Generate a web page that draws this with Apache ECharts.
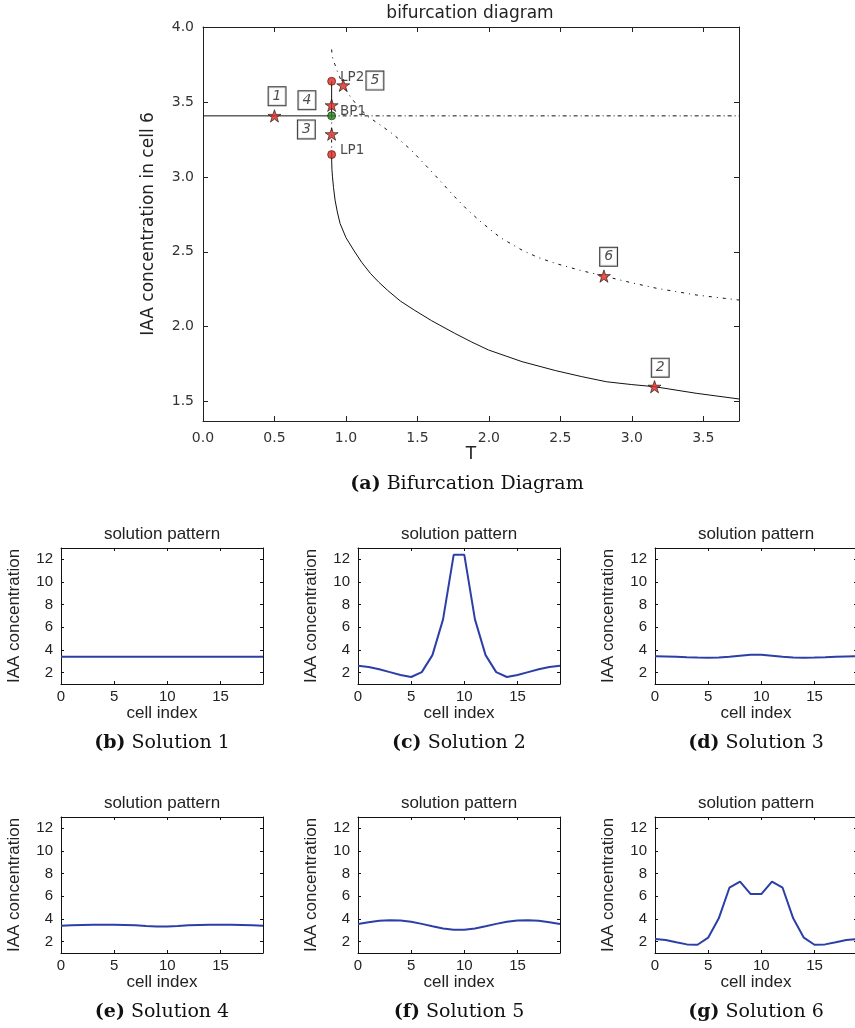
<!DOCTYPE html>
<html>
<head>
<meta charset="utf-8">
<script src="https://cdn.jsdelivr.net/npm/echarts@6/dist/echarts.min.js"></script>
<style>
html,body{margin:0;padding:0;background:#fff;}
#chart{width:855px;height:1028px;}
</style>
</head>
<body>
<div id="chart"></div>
<script>
// ---------- tick labels ----------
const mainXTicks = [0, 0.5, 1, 1.5, 2, 2.5, 3, 3.5];
const mainYTicks = [1.5, 2, 2.5, 3, 3.5, 4];
const subXTicks = [0, 5, 10, 15];
const subYTicks = [2, 4, 6, 8, 10, 12];

// ---------- bifurcation diagram branches (T, IAA in cell 6) ----------
const trivialStable = [[0, 3.407], [0.9, 3.407]];
const trivialUnstable = [[0.9, 3.407], [3.75, 3.407]];
const bpToLp2 = [[0.9, 3.407], [0.9, 3.638]];
const lp1ToBp = [[0.9, 3.149], [0.9, 3.407]];
const lowerBranch = [[0.9, 3.149], [0.9005, 3.10], [0.902, 3.05], [0.906, 3.0], [0.913, 2.93], [0.924, 2.845],
  [0.94, 2.765], [0.959, 2.689], [1.0, 2.595], [1.054, 2.511], [1.11, 2.43], [1.172, 2.355], [1.23, 2.297],
  [1.289, 2.245], [1.38, 2.172], [1.478, 2.111], [1.6, 2.04], [1.761, 1.956], [1.88, 1.898], [1.997, 1.845],
  [2.232, 1.767], [2.468, 1.707], [2.65, 1.667], [2.822, 1.633], [3.0, 1.614], [3.159, 1.600], [3.45, 1.556], [3.75, 1.518]];
const upperBranch = [[0.9, 3.85], [0.903, 3.81], [0.91, 3.78], [0.923, 3.75], [0.945, 3.69], [0.981, 3.611], [1.014, 3.558],
  [1.042, 3.522], [1.084, 3.47], [1.15, 3.405], [1.25, 3.34], [1.336, 3.28], [1.455, 3.18], [1.595, 3.04],
  [1.761, 2.867], [1.85, 2.78], [1.95, 2.695], [2.08, 2.595], [2.232, 2.511], [2.35, 2.46], [2.468, 2.422],
  [2.64, 2.376], [2.805, 2.338], [3.0, 2.293], [3.176, 2.256], [3.45, 2.212], [3.75, 2.178]];

// special points
const specialPoints = [[0.9, 3.149], [0.9, 3.638], [0.9, 3.407]];
const specialNames = ['LP1', 'LP2', 'BP1'];

// labelled solutions (stars)
const starPoints = [[0.5, 3.407], [3.159, 1.600], [0.9, 3.285], [0.9, 3.478], [0.981, 3.611], [2.805, 2.338]];
const starNames = ['1', '2', '3', '4', '5', '6'];

// ---------- solution patterns ----------
const cells = [0, 1, 2, 3, 4, 5, 6, 7, 8, 9, 10, 11, 12, 13, 14, 15, 16, 17, 18, 19];
const sol1 = [3.41, 3.41, 3.41, 3.41, 3.41, 3.41, 3.41, 3.41, 3.41, 3.41, 3.41, 3.41, 3.41, 3.41, 3.41, 3.41, 3.41, 3.41, 3.41, 3.41];
const sol2 = [2.6, 2.5, 2.3, 2.05, 1.8, 1.62, 2.05, 3.55, 6.7, 12.4, 12.4, 6.7, 3.55, 2.05, 1.62, 1.8, 2.05, 2.3, 2.5, 2.6];
const sol3 = [3.45, 3.43, 3.4, 3.36, 3.33, 3.32, 3.34, 3.4, 3.5, 3.58, 3.58, 3.5, 3.4, 3.34, 3.32, 3.33, 3.36, 3.4, 3.43, 3.45];
const sol4 = [3.41, 3.44, 3.47, 3.49, 3.5, 3.5, 3.48, 3.44, 3.38, 3.34, 3.34, 3.38, 3.44, 3.48, 3.5, 3.5, 3.49, 3.47, 3.44, 3.41];
const sol5 = [3.56, 3.72, 3.85, 3.9, 3.87, 3.75, 3.57, 3.36, 3.17, 3.06, 3.06, 3.17, 3.36, 3.57, 3.75, 3.87, 3.9, 3.85, 3.72, 3.56];
const sol6 = [2.24, 2.15, 1.95, 1.76, 1.73, 2.35, 4.06, 6.76, 7.3, 6.2, 6.2, 7.3, 6.76, 4.06, 2.35, 1.73, 1.76, 1.95, 2.15, 2.24];
const solLetters = ['b', 'c', 'd', 'e', 'f', 'g'];
const solTitles = ['Solution 1', 'Solution 2', 'Solution 3', 'Solution 4', 'Solution 5', 'Solution 6'];

// ---------- styling ----------
const SANS = '"DejaVu Sans", sans-serif';
const ARIAL = '"Liberation Sans", Arial, sans-serif';
const SERIF = '"DejaVu Serif", serif';
const STAR = 'path://M50,0 L61.2,34.6 L97.6,34.5 L68.1,55.9 L79.4,90.5 L50,69 L20.6,90.5 L31.9,55.9 L2.4,34.5 L38.8,34.6 Z';
const starLabelOffsets = [[2.6, -19.6], [5.7, -19], [-25.3, -4.7], [-24.7, -5], [31.7, -4.7], [4.7, -19.3]];
const subLefts = [61, 358, 655];
const subTops = [548, 817];
const SUBW = 202, SUBH = 136;
const LINEBLUE = '#2c3fa6';

const grids = [{left: 203, top: 27, width: 536, height: 394, outerBoundsMode: 'none', containLabel: false}];
const xAxes = [], yAxes = [], series = [], graphics = [];

// main axes
const mainFrame = {show: true, onZero: false, lineStyle: {color: '#222', width: 1}};
const mainLabel = {fontSize: 14, fontFamily: SANS, color: '#333'};
xAxes.push({
  gridIndex: 0, type: 'value', min: 0, max: 3.75, position: 'bottom',
  axisLine: mainFrame,
  axisTick: {show: true, inside: true, length: 5, customValues: mainXTicks, lineStyle: {color: '#222'}},
  axisLabel: Object.assign({show: true, customValues: mainXTicks, formatter: v => Number(v).toFixed(1), margin: 10}, mainLabel),
  splitLine: {show: false},
  name: 'T', nameLocation: 'middle', nameGap: 25,
  nameTextStyle: {fontSize: 17, fontFamily: SANS, color: '#222'}
});
xAxes.push({
  gridIndex: 0, type: 'value', min: 0, max: 3.75, position: 'top',
  axisLine: mainFrame,
  axisTick: {show: true, inside: true, length: 5, customValues: mainXTicks, lineStyle: {color: '#222'}},
  axisLabel: {show: false}, splitLine: {show: false}
});
yAxes.push({
  gridIndex: 0, type: 'value', min: 1.371, max: 4.0, position: 'left',
  axisLine: mainFrame,
  axisTick: {show: true, inside: true, length: 5, customValues: mainYTicks, lineStyle: {color: '#222'}},
  axisLabel: Object.assign({show: true, customValues: mainYTicks, formatter: v => Number(v).toFixed(1), margin: 9}, mainLabel),
  splitLine: {show: false},
  name: 'IAA concentration in cell 6', nameLocation: 'middle', nameGap: 46,
  nameTextStyle: {fontSize: 17, fontFamily: SANS, color: '#222'}
});
yAxes.push({
  gridIndex: 0, type: 'value', min: 1.371, max: 4.0, position: 'right',
  axisLine: mainFrame,
  axisTick: {show: true, inside: true, length: 5, customValues: mainYTicks, lineStyle: {color: '#222'}},
  axisLabel: {show: false}, splitLine: {show: false}
});

function branch(data, type) {
  return {
    type: 'line', xAxisIndex: 0, yAxisIndex: 0, data: data, showSymbol: false, symbol: 'none',
    smooth: false, silent: true, z: 2,
    lineStyle: {color: '#111', width: 1, type: type}
  };
}
series.push(branch(trivialStable, 'solid'));
series.push(branch(trivialUnstable, [4, 3, 1, 3]));
series.push(branch(bpToLp2, 'solid'));
series.push(branch(lp1ToBp, [3, 4, 1, 4]));
series.push(branch(lowerBranch, 'solid'));
series.push(branch(upperBranch, [3, 5, 1, 5]));

series.push({
  type: 'scatter', xAxisIndex: 0, yAxisIndex: 0, symbol: 'circle', symbolSize: 8, z: 4,
  data: specialPoints.map((p, i) => ({
    value: p, name: specialNames[i],
    itemStyle: {color: specialNames[i] === 'BP1' ? '#1b8a1b' : '#e0271e', borderColor: '#3a1010', borderWidth: 0.8}
  })),
  label: {show: true, position: 'right', distance: 4, offset: [0, -4], formatter: p => p.name,
    fontSize: 13.5, fontFamily: SANS, color: '#1a1a1a'}
});
series.push({
  type: 'scatter', xAxisIndex: 0, yAxisIndex: 0, symbol: STAR, symbolSize: 13, symbolKeepAspect: true, z: 5,
  itemStyle: {color: '#e0271e', borderColor: '#111', borderWidth: 0.8},
  data: starPoints.map((p, i) => ({
    value: p, name: starNames[i],
    label: {offset: starLabelOffsets[i]}
  })),
  label: {show: true, position: 'inside', formatter: p => p.name, fontSize: 14, fontStyle: 'italic',
    fontFamily: SANS, color: '#222', backgroundColor: '#fff', borderColor: '#000', borderWidth: 1,
    padding: [1, 4, 0, 4], lineHeight: 17}
});

graphics.push({type: 'text', x: 470, y: 14, silent: true,
  style: {text: 'bifurcation diagram', font: '17px ' + SANS, fill: '#222', textAlign: 'center', textVerticalAlign: 'middle'}});
graphics.push({type: 'text', x: 467, y: 484, silent: true,
  style: {text: '{b|(a)} Bifurcation Diagram', font: '19px ' + SERIF, fill: '#111', textAlign: 'center', textVerticalAlign: 'middle',
    rich: {b: {fontWeight: 'bold', fontSize: 19, fontFamily: SERIF, fill: '#111'}}}});

// solution subplots
const sols = [sol1, sol2, sol3, sol4, sol5, sol6];
sols.forEach((vals, k) => {
  const row = Math.floor(k / 3), col = k % 3;
  const gi = k + 1;
  grids.push({left: subLefts[col], top: subTops[row], width: SUBW, height: SUBH, outerBoundsMode: 'none', containLabel: false});
  const frame = {show: true, onZero: false, lineStyle: {color: '#111', width: 1}};
  const xi = xAxes.length, yi = yAxes.length;
  xAxes.push({
    gridIndex: gi, type: 'value', min: 0, max: 19, position: 'bottom', axisLine: frame,
    axisTick: {show: true, inside: true, length: 3, customValues: subXTicks, lineStyle: {color: '#111'}},
    axisLabel: {show: true, customValues: subXTicks, margin: 5, fontSize: 15, fontFamily: ARIAL, color: '#222'},
    splitLine: {show: false},
    name: 'cell index', nameLocation: 'middle', nameGap: 20,
    nameTextStyle: {fontSize: 17, fontFamily: ARIAL, color: '#222'}
  });
  xAxes.push({
    gridIndex: gi, type: 'value', min: 0, max: 19, position: 'top', axisLine: frame,
    axisTick: {show: true, inside: true, length: 3, customValues: subXTicks, lineStyle: {color: '#111'}},
    axisLabel: {show: false}, splitLine: {show: false}
  });
  yAxes.push({
    gridIndex: gi, type: 'value', min: 1, max: 13, position: 'left', axisLine: frame,
    axisTick: {show: true, inside: true, length: 3, customValues: subYTicks, lineStyle: {color: '#111'}},
    axisLabel: {show: true, customValues: subYTicks, margin: 8, fontSize: 15, fontFamily: ARIAL, color: '#222'},
    splitLine: {show: false},
    name: 'IAA concentration', nameLocation: 'middle', nameGap: 38,
    nameTextStyle: {fontSize: 17, fontFamily: ARIAL, color: '#222'}
  });
  yAxes.push({
    gridIndex: gi, type: 'value', min: 1, max: 13, position: 'right', axisLine: frame,
    axisTick: {show: true, inside: true, length: 3, customValues: subYTicks, lineStyle: {color: '#111'}},
    axisLabel: {show: false}, splitLine: {show: false}
  });
  series.push({
    type: 'line', xAxisIndex: xi, yAxisIndex: yi, data: cells.map((c, i) => [c, vals[i]]),
    showSymbol: false, symbol: 'none', silent: true, lineStyle: {color: LINEBLUE, width: 2}
  });
  const cx = subLefts[col] + SUBW / 2;
  graphics.push({type: 'text', x: cx, y: subTops[row] - 14, silent: true,
    style: {text: 'solution pattern', font: '17px ' + ARIAL, fill: '#222', textAlign: 'center', textVerticalAlign: 'middle'}});
  graphics.push({type: 'text', x: cx, y: subTops[row] + SUBH + 59, silent: true,
    style: {text: '{b|(' + solLetters[k] + ')} ' + solTitles[k], font: '19px ' + SERIF, fill: '#111',
      textAlign: 'center', textVerticalAlign: 'middle',
      rich: {b: {fontWeight: 'bold', fontSize: 19, fontFamily: SERIF, fill: '#111'}}}});
});

const chart = echarts.init(document.getElementById('chart'), null, {renderer: 'canvas'});
chart.setOption({
  animation: false,
  backgroundColor: '#fff',
  grid: grids,
  xAxis: xAxes,
  yAxis: yAxes,
  series: series,
  graphic: graphics
});
</script>
</body>
</html>
